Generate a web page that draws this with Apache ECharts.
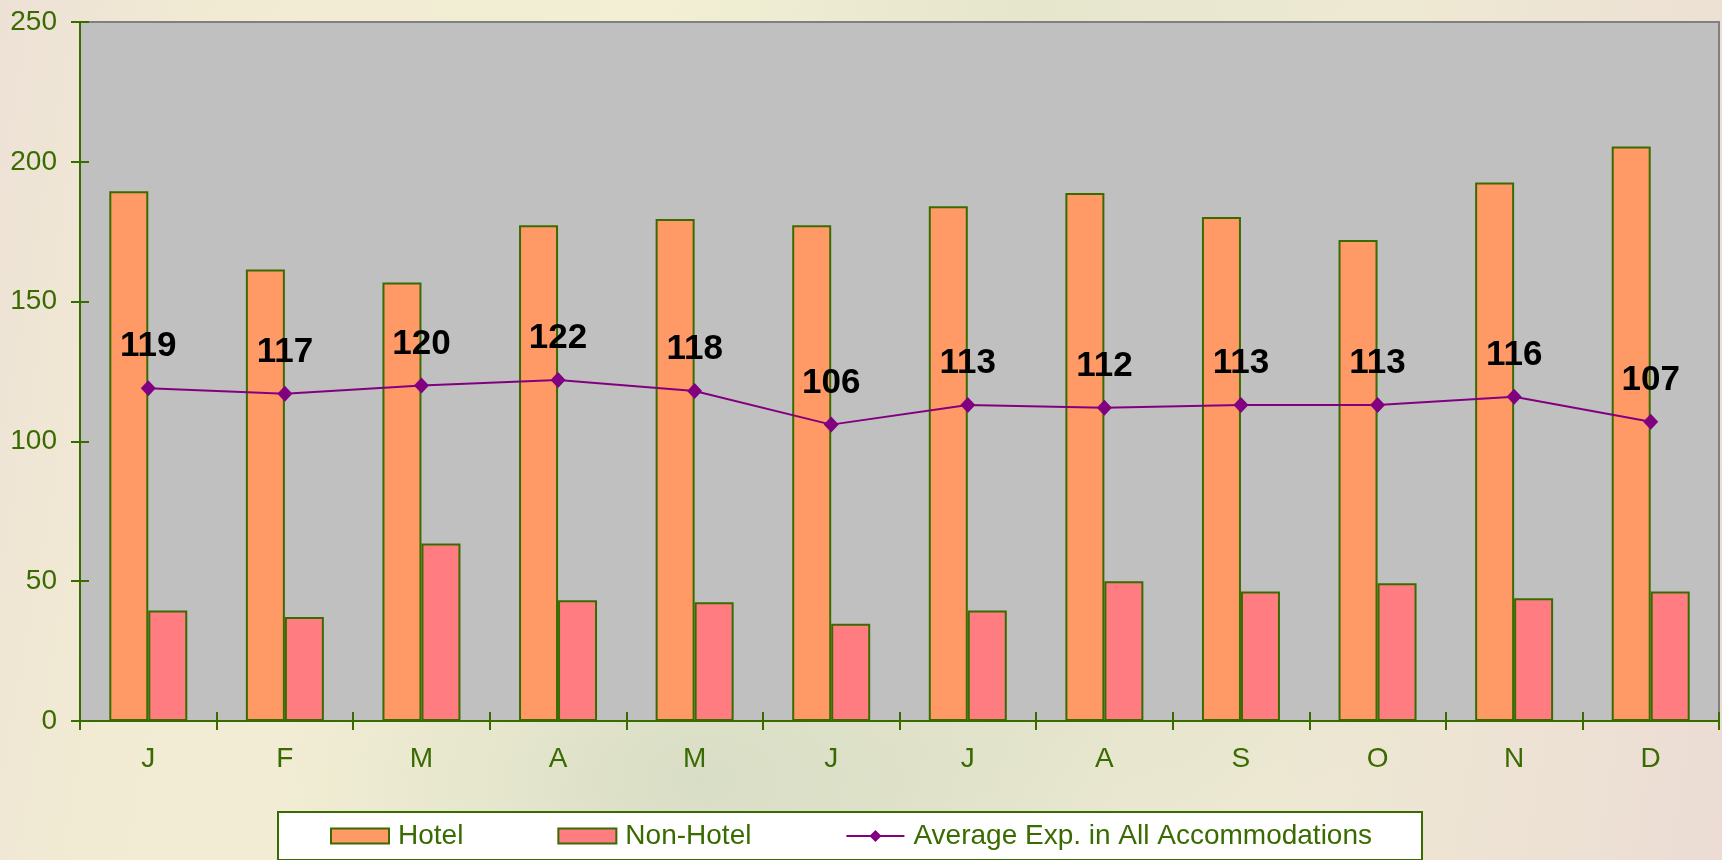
<!DOCTYPE html>
<html>
<head>
<meta charset="utf-8">
<script src="https://cdn.jsdelivr.net/npm/echarts@6/dist/echarts.min.js"></script>
<style>
  html, body { margin: 0; padding: 0; }
  #chart {
    width: 1722px; height: 860px;
    background:
      radial-gradient(ellipse 600px 400px at 700px 780px, rgba(214,220,196,0.9), rgba(214,220,196,0) 70%),
      radial-gradient(ellipse 500px 500px at 1150px 500px, rgba(218,222,200,0.7), rgba(218,222,200,0) 70%),
      linear-gradient(100deg, #ede1d6 0%, #f1ebd3 12%, #f2efd4 35%, #e6e6cd 55%, #eee9d3 75%, #ecdcd4 100%);
  }
</style>
</head>
<body>
<div id="chart"></div>
<script>
const categories = ['J', 'F', 'M', 'A', 'M', 'J', 'J', 'A', 'S', 'O', 'N', 'D'];
const hotel = [189.5, 161.5, 156.8, 177.3, 179.5, 177.3, 184.1, 188.8, 180.3, 172.0, 192.6, 205.5];
const nonHotel = [39.5, 37.2, 63.5, 43.2, 42.5, 34.8, 39.5, 50.0, 46.3, 49.3, 43.9, 46.3];
const average = [119, 117, 120, 122, 118, 106, 113, 112, 113, 113, 116, 107];
const seriesNames = ['Hotel', 'Non-Hotel', 'Average Exp. in All Accommodations'];

const green = '#3a6b00';
const font = '"Liberation Sans", Arial, sans-serif';

const chart = echarts.init(document.getElementById('chart'), null, { renderer: 'canvas' });
chart.setOption({
  backgroundColor: 'transparent',
  animation: false,
  textStyle: { fontFamily: font },
  grid: {
    left: 80, right: 3, top: 22, bottom: 139,
    show: true, backgroundColor: '#c0c0c0', borderColor: '#808080', borderWidth: 2
  },
  legend: {
    data: [
      { name: seriesNames[0], icon: 'rect' },
      { name: seriesNames[1], icon: 'rect' },
      { name: seriesNames[2] }
    ],
    left: 278, top: 812,
    orient: 'horizontal',
    backgroundColor: '#ffffff',
    borderColor: green, borderWidth: 2,
    padding: [10, 50, 10, 52],
    itemWidth: 58, itemHeight: 15, itemGap: 94,
    textStyle: { color: green, fontSize: 28, fontFamily: font, padding: [0, 0, 0, 4] }
  },
  xAxis: [
    {
      type: 'category', data: categories, boundaryGap: true, position: 'bottom',
      axisLine: { show: true, lineStyle: { color: green, width: 2 } },
      axisTick: { show: true, inside: false, length: 9, lineStyle: { color: green, width: 2 } },
      axisLabel: { color: green, fontSize: 28, margin: 24, fontFamily: font },
      splitLine: { show: false }
    },
    {
      type: 'category', data: categories, boundaryGap: true, position: 'bottom',
      axisLine: { show: false },
      axisTick: { show: true, inside: true, length: 9, lineStyle: { color: green, width: 2 } },
      axisLabel: { show: false },
      splitLine: { show: false }
    }
  ],
  yAxis: [
    {
      type: 'value', min: 0, max: 250, interval: 50, position: 'left',
      axisLine: { show: true, lineStyle: { color: green, width: 2 } },
      axisTick: { show: true, inside: false, length: 9, lineStyle: { color: green, width: 2 } },
      axisLabel: { color: green, fontSize: 28, margin: 23, fontFamily: font },
      splitLine: { show: false }
    },
    {
      type: 'value', min: 0, max: 250, interval: 50, position: 'left', offset: 0,
      axisLine: { show: false },
      axisTick: { show: true, inside: true, length: 9, lineStyle: { color: green, width: 2 } },
      axisLabel: { show: false },
      splitLine: { show: false }
    }
  ],
  series: [
    {
      name: seriesNames[0], type: 'bar', data: hotel,
      barWidth: 39, barGap: '0%',
      itemStyle: { color: '#ff9966', borderColor: green, borderWidth: 2 }
    },
    {
      name: seriesNames[1], type: 'bar', data: nonHotel,
      barWidth: 39, barGap: '0%',
      itemStyle: { color: '#ff7c80', borderColor: green, borderWidth: 2 }
    },
    {
      name: seriesNames[2], type: 'line', data: average, z: 5,
      symbol: 'diamond', symbolSize: [15, 16],
      lineStyle: { color: '#800080', width: 2 },
      itemStyle: { color: '#800080' },
      label: {
        show: true, position: 'top', distance: 16,
        color: '#000000', fontSize: 35, fontWeight: 'bold', fontFamily: font
      }
    }
  ]
});
</script>
</body>
</html>
